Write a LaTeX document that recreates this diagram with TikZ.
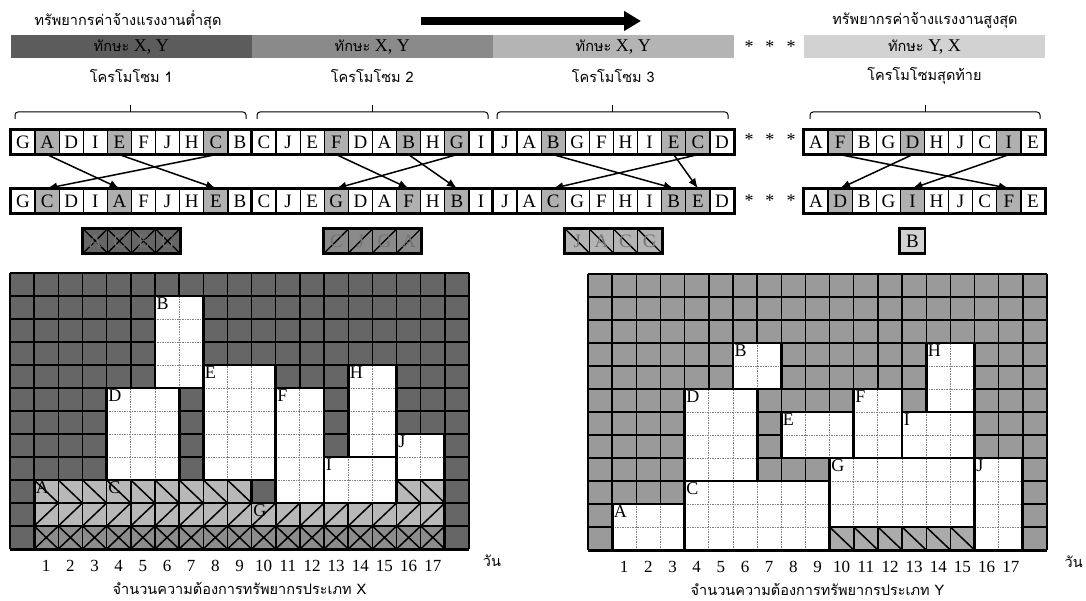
\documentclass[tikz,border=0pt]{standalone}
\usepackage{fontspec}
\setmainfont{Liberation Serif}
\newfontfamily\thaifont[Script=Thai]{Loma}
\usetikzlibrary{arrows.meta}
\definecolor{barA}{HTML}{5C5C5C}
\definecolor{barB}{HTML}{8A8A8A}
\definecolor{barC}{HTML}{B4B4B4}
\definecolor{barD}{HTML}{D2D2D2}
\definecolor{hit}{HTML}{B0B0B0}
\definecolor{darkbg}{HTML}{666666}
\definecolor{midbg}{HTML}{9A9A9A}
\definecolor{hatchlight}{HTML}{B8B8B8}
\definecolor{hatchdark}{HTML}{8C8C8C}
\definecolor{hatchmid}{HTML}{ABABAB}

% one row of a chromosome: prefix, left edge, centre y, genes
\newcommand\chromrow[4]{%
  \foreach \g/\f [count=\i from 0] in {#4}
    \node[gene, fill=\f] (#1-\i) at ({#2+12.05+24.1*\i}, #3) {\g};
  \draw[line width=2.6pt] (#1-0.north west) rectangle (#1-9.south east);
}
% brace over a chromosome: left, right
\newcommand\chrombrace[2]{%
  \draw[line width=1pt, rounded corners=3pt] (#1,119) -- (#1,112) -- (#2,112) -- (#2,119);
  \draw[line width=1pt] ({(#1+#2)/2},112) -- ({(#1+#2)/2},105);
}
% white block of one job in a chart: name, label, corners
\newcommand\activity[6]{%
  \fill[white] (#3,#4) rectangle (#5,#6);
  \draw[inner] (#3,#4) grid (#5,#6);
  \draw[border] (#3,#4) rectangle (#5,#6);
  \node[tag] (#1) at (#3,#6) {#2};
}

\begin{document}
\begin{tikzpicture}[x=1pt, y=-1pt,
    every node/.style={font=\fontsize{18}{20}\selectfont},
    thai/.style={font=\thaifont\fontsize{14.5}{17}\selectfont},
    bar/.style={minimum width=240.6pt, minimum height=23pt, inner sep=0pt},
    gene/.style={draw, line width=1.3pt, minimum width=24.1pt, minimum height=24pt, inner sep=0pt, font=\fontsize{19}{20}\selectfont},
    lost/.style={gene, text=black!55},
    xcross/.style={path picture={\draw[line width=1.3pt] (path picture bounding box.north west) -- (path picture bounding box.south east) (path picture bounding box.south west) -- (path picture bounding box.north east);}},
    slash/.style={path picture={\draw[line width=1.3pt] (path picture bounding box.south west) -- (path picture bounding box.north east);}},
    bslash/.style={path picture={\draw[line width=1.3pt] (path picture bounding box.north west) -- (path picture bounding box.south east);}},
    swap/.style={line width=1.5pt, -{Latex[length=10pt, width=8pt]}},
    cell/.style={step=1, line width=1.4pt, black},
    inner/.style={step=1, line width=0.9pt, gray, dash pattern=on 1.5pt off 1pt},
    border/.style={line width=2.8pt, line join=miter},
    hatch/.style={step=1, line width=1.5pt},
    tag/.style={anchor=north west, inner sep=1.5pt, font=\fontsize{18}{20}\selectfont},
    day/.style={font=\fontsize{17}{19}\selectfont}
  ]
  \useasboundingbox (0,0) rectangle (1086,601);

  % heading
  \node[thai] (low) at (128,20) {ทรัพยากรค่าจ้างแรงงานต่ำสุด};
  \node[thai] (high) at (925,20) {ทรัพยากรค่าจ้างแรงงานสูงสุด};
  \coordinate (from) at (421,21);
  \coordinate (to) at (641,21);
  \draw[line width=8pt, -{Triangle[length=17pt, width=19pt]}] (from) -- (to);

  \node[bar, fill=barA] (bar1) at (131.3,47) {{\thaifont\fontsize{14.5}{17}\selectfont ทักษะ} X, Y};
  \node[bar, fill=barB] (bar2) at (372.3,47) {{\thaifont\fontsize{14.5}{17}\selectfont ทักษะ} X, Y};
  \node[bar, fill=barC] (bar3) at (613.3,47) {{\thaifont\fontsize{14.5}{17}\selectfont ทักษะ} X, Y};
  \node[bar, fill=barD] (bar4) at (924.5,47) {{\thaifont\fontsize{14.5}{17}\selectfont ทักษะ} Y, X};
  \node (dots0) at (770,47) {*\hspace{12pt}*\hspace{12pt}*};

  \node[thai] (name1) at (131.3,76) {โครโมโซม 1};
  \node[thai] (name2) at (372.3,76) {โครโมโซม 2};
  \node[thai] (name3) at (613.3,76) {โครโมโซม 3};
  \node[thai] (name4) at (924.5,76) {โครโมโซมสุดท้าย};

  \chrombrace{15}{246}
  \chrombrace{257}{488}
  \chrombrace{497}{728}
  \chrombrace{810}{1040}

  % chromosomes before and after the swap
  \chromrow{t1}{11}{142}{G/white,A/hit,D/white,I/white,E/hit,F/white,J/white,H/white,C/hit,B/white}
  \chromrow{t2}{252}{142}{C/white,J/white,E/white,F/hit,D/white,A/white,B/hit,H/white,G/hit,I/white}
  \chromrow{t3}{493}{142}{J/white,A/white,B/hit,G/white,F/white,H/white,I/white,E/hit,C/hit,D/white}
  \chromrow{t4}{804}{142}{A/white,F/hit,B/white,G/white,D/hit,H/white,J/white,C/white,I/hit,E/white}
  \chromrow{b1}{11}{201}{G/white,C/hit,D/white,I/white,A/hit,F/white,J/white,H/white,E/hit,B/white}
  \chromrow{b2}{252}{201}{C/white,J/white,E/white,G/hit,D/white,A/white,F/hit,H/white,B/hit,I/white}
  \chromrow{b3}{493}{201}{J/white,A/white,C/hit,G/white,F/white,H/white,I/white,B/hit,E/hit,D/white}
  \chromrow{b4}{804}{201}{A/white,D/hit,B/white,G/white,I/hit,H/white,J/white,C/white,F/hit,E/white}
  \node (dots1) at (770,140) {*\hspace{12pt}*\hspace{12pt}*};
  \node (dots2) at (770,201) {*\hspace{12pt}*\hspace{12pt}*};

  \foreach \a/\b in {1/4,4/8,8/1} \draw[swap] (t1-\a.south) -- (b1-\b.north);
  \foreach \a/\b in {3/6,6/8,8/3} \draw[swap] (t2-\a.south) -- (b2-\b.north);
  \foreach \a/\b in {2/7,7/8,8/2} \draw[swap] (t3-\a.south) -- (b3-\b.north);
  \foreach \a/\b in {1/8,4/1,8/4} \draw[swap] (t4-\a.south) -- (b4-\b.north);

  % genes left over
  \foreach \g [count=\i from 0] in {A,C,E,G}
    \node[lost, fill=darkbg, xcross] (l1-\i) at ({11+12.05+24.1*(3+\i)},241) {\g};
  \foreach \g [count=\i from 0] in {C,J,G,A}
    \node[lost, fill=barB, slash] (l2-\i) at ({252+12.05+24.1*(3+\i)},241) {\g};
  \foreach \g [count=\i from 0] in {J,A,C,G}
    \node[lost, fill=barC, bslash] (l3-\i) at ({493+12.05+24.1*(3+\i)},241) {\g};
  \node[gene, fill=barD] (l4-0) at ({804+12.05+24.1*4},241) {B};
  \foreach \k in {1,2,3}
    \draw[line width=2.6pt] (l\k-0.north west) rectangle (l\k-3.south east);
  \draw[line width=2.6pt] (l4-0.north west) rectangle (l4-0.south east);

  % chart of resource X
  \begin{scope}[shift={(10,549)}, x=24.16pt, y=23pt]
    \fill[darkbg] (0,0) rectangle (19,12);
    \draw[cell] (0,0) grid (19,12);
    \foreach \c in {1,...,17} {
      \fill[hatchdark] (\c,0) rectangle +(1,1);
      \fill[hatchlight] (\c,1) rectangle +(1,1);
      \draw[hatch] (\c,0) -- +(1,1) (\c,1) -- +(1,-1) (\c,1) -- +(1,1);
    }
    \foreach \c in {1,...,9,16,17} {
      \fill[hatchlight] (\c,2) rectangle +(1,1);
      \draw[hatch] (\c,3) -- +(1,-1);
    }
    \draw[hatch] (1,0) grid (18,2) (1,2) grid (10,3) (16,2) grid (18,3);
    \draw[border] (1,0) |- (10,3) |- (16,2) |- (18,3) -- (18,0);
    \node[tag] (xA) at (1,3) {A};
    \node[tag] (xC) at (4,3) {C};
    \node[tag] (xG) at (10,2) {G};
    \activity{xB}{B}{6}{7}{8}{11}
    \activity{xD}{D}{4}{3}{7}{7}
    \activity{xE}{E}{8}{3}{11}{8}
    \activity{xF}{F}{11}{2}{13}{7}
    \activity{xH}{H}{14}{4}{16}{8}
    \activity{xI}{I}{13}{2}{16}{4}
    \activity{xJ}{J}{16}{3}{18}{5}
    \draw[line width=3pt] (0,0) -- (19,0);
    \foreach \d in {1,...,17} \node[day] (xd\d) at (\d+0.5,-0.72) {\d};
    \node[thai] (xunit) at (19.95,-0.5) {วัน};
    \node[thai] (xaxis) at (9.5,-1.7) {จำนวนความต้องการทรัพยากรประเภท X};
  \end{scope}

  % chart of resource Y
  \begin{scope}[shift={(588,550)}, x=24.16pt, y=23pt]
    \fill[midbg] (0,0) rectangle (19,12);
    \draw[cell] (0,0) grid (19,12);
    \activity{yA}{A}{1}{0}{4}{2}
    \activity{yC}{C}{4}{0}{10}{3}
    \activity{yG}{G}{10}{0}{16}{4}
    \activity{yJ}{J}{16}{0}{18}{4}
    \activity{yD}{D}{4}{3}{7}{7}
    \activity{yB}{B}{6}{7}{8}{9}
    \activity{yE}{E}{8}{4}{11}{6}
    \activity{yF}{F}{11}{4}{13}{7}
    \activity{yI}{I}{13}{4}{16}{6}
    \activity{yH}{H}{14}{6}{16}{9}
    \foreach \c in {10,...,15} {
      \fill[hatchmid] (\c,0) rectangle +(1,1);
      \draw[hatch] (\c,1) -- +(1,-1);
    }
    \draw[hatch] (10,0) grid (16,1);
    \draw[border] (10,0) rectangle (16,4);
    \draw[line width=3pt] (0,0) -- (19,0);
    \foreach \d in {1,...,17} \node[day] (yd\d) at (\d+0.5,-0.72) {\d};
    \node[thai] (yunit) at (20.1,-0.5) {วัน};
    \node[thai] (yaxis) at (9.5,-1.7) {จำนวนความต้องการทรัพยากรประเภท Y};
  \end{scope}
\end{tikzpicture}
\end{document}
